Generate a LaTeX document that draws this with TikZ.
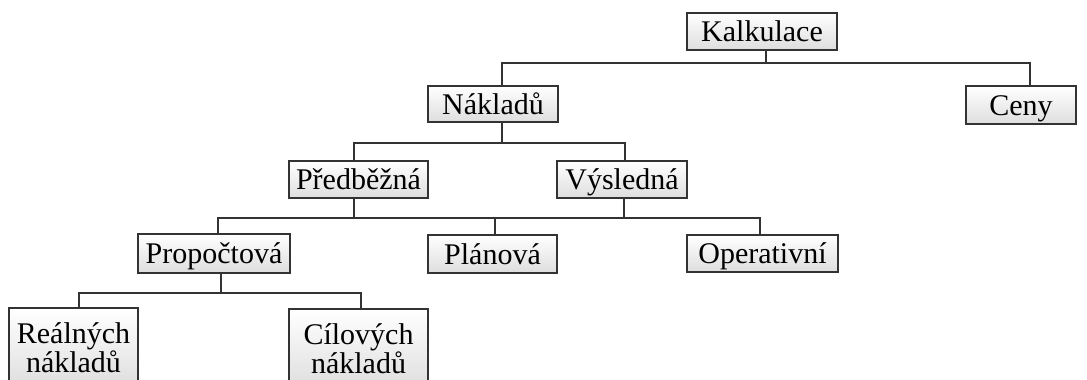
\documentclass[tikz,border=0pt]{standalone}
\usepackage{fontspec}
\setmainfont{Liberation Serif}
\begin{document}
\begin{tikzpicture}[x=1pt,y=-1pt,
  box/.style={draw=black!80, line width=1.2pt, top color=white, bottom color=black!13,
    font=\fontsize{30}{30}\selectfont, inner sep=0pt, text height=20pt, text depth=0pt},
  tallbox/.style={draw=black!80, line width=1.2pt, top color=white, bottom color=black!13,
    font=\fontsize{30}{29}\selectfont, inner sep=0pt, align=center},
  conn/.style={draw=black!80, line width=1.2pt}]
\clip (0,0) rectangle (1087,380);
\fill[white] (0,0) rectangle (1087,380);
% nodes
\node[box, minimum width=150pt, minimum height=37pt] (kalk) at (762,31.5) {Kalkulace};
\node[box, minimum width=130pt, minimum height=36pt] (nakl) at (493,104) {Nákladů};
\node[box, minimum width=110pt, minimum height=38pt] (ceny) at (1021,105) {Ceny};
\node[box, minimum width=139pt, minimum height=37pt] (pred) at (358.5,179.5) {Předběžná};
\node[box, minimum width=130pt, minimum height=37pt] (vysl) at (622,179.5) {Výsledná};
\node[box, minimum width=152pt, minimum height=39pt] (prop) at (214,253.5) {Propočtová};
\node[box, minimum width=129pt, minimum height=38pt] (plan) at (492.5,254) {Plánová};
\node[box, minimum width=151pt, minimum height=37pt] (oper) at (762.5,253.5) {Operativní};
\node[tallbox, minimum width=129pt, minimum height=80pt] (real) at (73.5,348) {Reálných\\nákladů};
\node[tallbox, minimum width=139pt, minimum height=80pt] (cil) at (358.5,349) {Cílových\\nákladů};
% bus coordinates
\coordinate (k1) at (766,63);
\coordinate (n1) at (502,63);
\coordinate (c1) at (1030,63);
\coordinate (n2) at (502,143);
\coordinate (p2) at (354,143);
\coordinate (v2) at (625,143);
\coordinate (p3) at (354,218);
\coordinate (v3) at (624,218);
\coordinate (r3) at (218,218);
\coordinate (l3) at (495,218);
\coordinate (o3) at (760,218);
\coordinate (b4) at (221,293);
\coordinate (r4) at (79,293);
\coordinate (c4) at (361,293);
% level 1
\draw[conn] (kalk.south -| k1) -- (k1);
\draw[conn] (nakl.north -| n1) -- (n1) -- (c1) -- (ceny.north -| c1);
% level 2
\draw[conn] (nakl.south -| n2) -- (n2);
\draw[conn] (pred.north -| p2) -- (p2) -- (v2) -- (vysl.north -| v2);
% level 3
\draw[conn] (pred.south -| p3) -- (p3);
\draw[conn] (vysl.south -| v3) -- (v3);
\draw[conn] (prop.north -| r3) -- (r3) -- (o3) -- (oper.north -| o3);
\draw[conn] (plan.north -| l3) -- (l3);
% level 4
\draw[conn] (prop.south -| b4) -- (b4);
\draw[conn] (real.north -| r4) -- (r4) -- (c4) -- (cil.north -| c4);
\end{tikzpicture}
\end{document}
